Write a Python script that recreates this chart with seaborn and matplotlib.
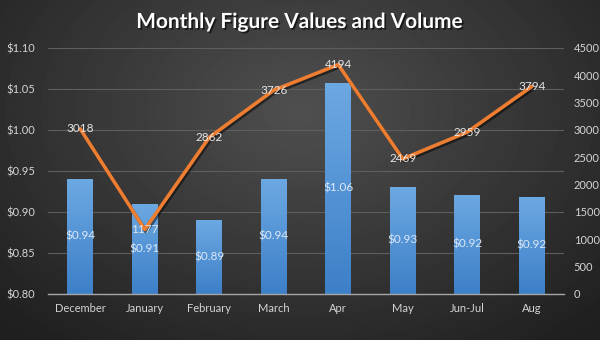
import numpy as np
import matplotlib
matplotlib.use("Agg")
import matplotlib.pyplot as plt
import matplotlib.patheffects as pe
from matplotlib.colors import LinearSegmentedColormap
import seaborn as sns

months = ["December", "January", "February", "March", "Apr", "May", "Jun-Jul", "Aug"]
price = [0.94, 0.91, 0.89, 0.94, 1.057, 0.93, 0.921, 0.918]
price_labels = ["$0.94", "$0.91", "$0.89", "$0.94", "$1.06", "$0.93", "$0.92", "$0.92"]
volume = [3018, 1177, 2862, 3726, 4194, 2469, 2959, 3794]
left_ticks = [0.80, 0.85, 0.90, 0.95, 1.00, 1.05, 1.10]
left_labels = ["$0.80", "$0.85", "$0.90", "$0.95", "$1.00", "$1.05", "$1.10"]
right_ticks = [0, 500, 1000, 1500, 2000, 2500, 3000, 3500, 4000, 4500]

sns.set_theme(style="dark")
plt.rcParams['font.family'] = ['Lato', 'DejaVu Sans']

fig = plt.figure(figsize=(6, 3.4), dpi=100)

# background radial gradient
bg = fig.add_axes([0, 0, 1, 1])
bg.axis('off')
yy, xx = np.mgrid[0:340, 0:600]
d = np.sqrt(((xx - 300) / 430) ** 2 + ((yy - 110) / 300) ** 2)
val = 0.31 - 0.19 * np.clip(d, 0, 1)
bg.imshow(val, cmap='gray', vmin=0, vmax=1, extent=[0, 1, 0, 1], aspect='auto', zorder=0)
bg.set_xlim(0, 1)
bg.set_ylim(0, 1)

ax = fig.add_axes([0.08, 0.136, 0.86, 0.723])
ax.patch.set_alpha(0)
sns.barplot(x=months, y=price, ax=ax, color='#5b9bd5', width=0.4, saturation=1,
            linewidth=0, edgecolor='none', zorder=2)

ax.set_ylim(0.8, 1.1)
ax.set_xlim(-0.5, len(months) - 0.5)
ax.set_yticks(left_ticks)
ax.set_yticklabels(left_labels)
ax.grid(axis='y', color='#5e5e5e', lw=0.8)
ax.grid(axis='x', visible=False)
ax.set_axisbelow(True)
for s in ['top', 'left', 'right']:
    ax.spines[s].set_visible(False)
ax.spines['bottom'].set_color('#a6a6a6')
ax.spines['bottom'].set_linewidth(1.0)
ax.tick_params(axis='x', colors='#d4d4d4', labelsize=8, length=0, pad=7)
ax.tick_params(axis='y', colors='#d4d4d4', labelsize=8, length=0, pad=9)
ax.set_xlabel('')
ax.set_ylabel('')

# bar gradients
cmap = LinearSegmentedColormap.from_list('bar', ['#3d80c8', '#6ca8e2'])
grad = np.linspace(0, 1, 100).reshape(-1, 1)
for p in list(ax.patches):
    x0 = p.get_x()
    w = p.get_width()
    top = p.get_y() + p.get_height()
    im = ax.imshow(grad, cmap=cmap, origin='lower', aspect='auto',
                   extent=[x0, x0 + w, 0.8, top], zorder=2.5)
    im.set_clip_path(p)

for i, (p, lbl) in enumerate(zip(price, price_labels)):
    ax.text(i, (0.8 + p) / 2, lbl, ha='center', va='center', color='#dce8f6',
            fontsize=8.5, zorder=5)

ax2 = ax.twinx()
sns.lineplot(x=months, y=volume, ax=ax2, sort=False, color='#ed7d31', lw=2.6,
             zorder=4,
             path_effects=[pe.SimpleLineShadow(offset=(1, -1.5), alpha=0.5, shadow_color='black'),
                           pe.Normal()])
ax2.set_ylim(0, 4500)
ax2.set_xlim(-0.5, len(months) - 0.5)
ax2.set_yticks(right_ticks)
ax2.grid(False)
for s in ax2.spines.values():
    s.set_visible(False)
ax2.tick_params(axis='y', colors='#d4d4d4', labelsize=8, length=0, pad=7)
ax2.set_ylabel('')
ax2.set_xlabel('')
ax2.patch.set_alpha(0)

for i, v in enumerate(volume):
    ax2.text(i, v, str(v), ha='center', va='center', color='#e6e6e6', fontsize=8.5, zorder=6)

fig.text(0.5, 1 - 22 / 340, "Monthly Figure Values and Volume", ha='center', va='center',
         fontsize=15, fontweight='bold', color='white',
         path_effects=[pe.withSimplePatchShadow(offset=(1.2, -1.2), shadow_rgbFace='black', alpha=0.6)])

fig.savefig('out.png', dpi=100)
